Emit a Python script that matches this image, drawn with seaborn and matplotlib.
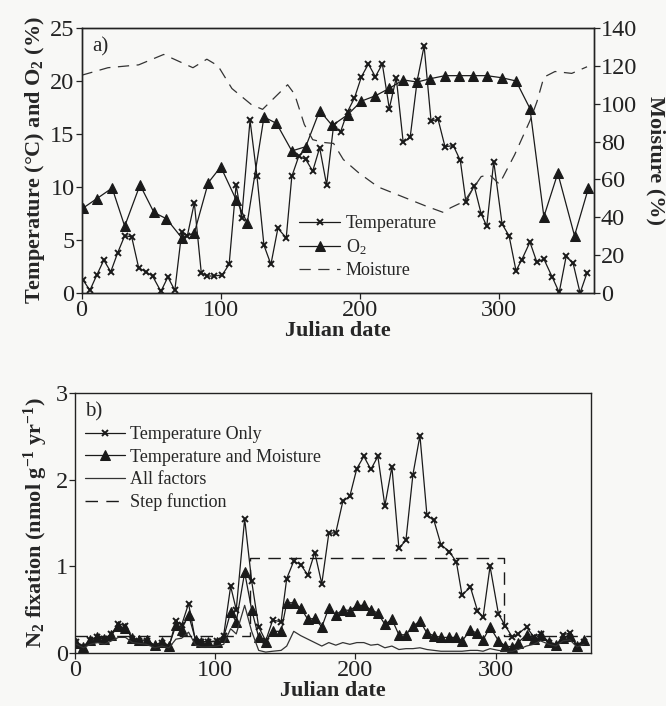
import matplotlib
matplotlib.use("Agg")
import matplotlib.pyplot as plt
import seaborn as sns
import pandas as pd

# ---------------- data ----------------
temp_days = [1, 6, 11, 16, 21, 26, 31, 36, 41, 46, 51, 57, 62, 67, 72, 76, 81, 86, 90, 95,
             101, 106, 111, 115, 121,
             126, 131, 136, 141, 147, 151, 156, 161, 166, 171, 176, 181, 186, 191, 196,
             201, 206, 211, 216, 221, 226, 231, 236, 241, 246,
             251, 256, 261, 267, 272, 276, 282, 287, 291, 296, 302, 307, 312, 316, 322,
             327, 332, 338, 343, 348, 353, 358, 363]
temperature = [1.25, 0.25, 1.7, 3.1, 2.0, 3.8, 5.4, 5.3, 2.4, 2.0,
               1.6, 0.15, 1.5, 0.25, 5.8, 5.4, 8.5, 1.9, 1.6, 1.6,
               1.7, 2.7, 10.2, 7.1, 16.3,
               11.0, 4.5, 2.7, 6.1, 5.2, 11.0, 12.9, 12.6, 11.5, 13.7,
               10.2, 15.8, 15.2, 17.1, 18.4, 20.4, 21.6, 20.4, 21.6, 17.4,
               20.3, 14.2, 14.7, 20.0, 23.3,
               16.2, 16.4, 13.8, 13.9, 12.5, 8.6, 10.1, 7.45, 6.3, 12.4,
               6.5, 5.4, 2.1, 3.1, 4.8, 2.9, 3.2, 1.5, 0.05, 3.45,
               2.8, 0.0, 1.9]

o2_days = [1, 11, 22, 31, 42, 52, 61, 72, 81, 91, 100, 111, 119, 131, 140, 151, 161, 171,
           180, 191, 201, 211, 221, 231, 241, 250, 261, 271, 281, 291, 302, 312, 322, 332,
           342, 354, 364]
o2 = [8.0, 8.9, 9.9, 6.3, 10.2, 7.6, 7.0, 5.2, 5.66, 10.4, 11.9, 8.8, 6.6, 16.6, 16.0,
      13.4, 13.8, 17.2, 15.8, 16.8, 18.1, 18.6, 19.3, 20.1, 19.9, 20.2, 20.5, 20.5, 20.5,
      20.5, 20.3, 20.0, 17.4, 7.2, 11.3, 5.4, 9.9]

moist_days = [0, 19, 41, 59, 80, 90, 98, 108, 122, 130, 148, 153, 160, 166, 174, 181, 188,
              199, 213, 230, 247, 260, 265, 275, 287, 293, 300, 311, 322, 327, 332, 340,
              352, 363]
moisture = [115, 119, 120.5, 126, 119, 123.5, 120, 108, 99.5, 97, 110, 105, 89, 81, 79.5,
            79, 70.5, 63.5, 56, 51, 46, 42.5, 45, 48.5, 61.5, 62.5, 57.5, 73, 91, 101, 114,
            117, 116, 119.5]

n2_temp_only = [0.13, 0.07, 0.15, 0.19, 0.16, 0.22, 0.34, 0.31, 0.16, 0.14,
                0.14, 0.07, 0.11, 0.07, 0.37, 0.32, 0.57, 0.13, 0.13, 0.13,
                0.14, 0.20, 0.77, 0.50, 1.55,
                0.83, 0.30, 0.14, 0.38, 0.36, 0.86, 1.06, 1.02, 0.90, 1.16,
                0.80, 1.38, 1.39, 1.75, 1.81, 2.13, 2.27, 2.12, 2.27, 1.70,
                2.15, 1.21, 1.30, 2.06, 2.51,
                1.59, 1.53, 1.25, 1.17, 1.05, 0.67, 0.76, 0.49, 0.41, 1.00,
                0.45, 0.31, 0.18, 0.22, 0.30, 0.19, 0.22, 0.11, 0.08, 0.21,
                0.23, 0.08, 0.13]
n2_temp_moist = [0.12, 0.07, 0.15, 0.18, 0.16, 0.21, 0.31, 0.29, 0.17, 0.15,
                 0.15, 0.09, 0.13, 0.08, 0.32, 0.27, 0.44, 0.15, 0.13, 0.13,
                 0.13, 0.18, 0.47, 0.36, 0.93,
                 0.50, 0.18, 0.13, 0.25, 0.25, 0.58, 0.58, 0.52, 0.39, 0.40,
                 0.30, 0.52, 0.44, 0.50, 0.49, 0.55, 0.55, 0.50, 0.46, 0.33,
                 0.39, 0.21, 0.21, 0.31, 0.37,
                 0.23, 0.20, 0.18, 0.18, 0.18, 0.14, 0.26, 0.23, 0.15, 0.30,
                 0.14, 0.08, 0.07, 0.12, 0.21, 0.16, 0.21, 0.13, 0.09, 0.17,
                 0.20, 0.08, 0.15]
n2_all = [0.10, 0.06, 0.10, 0.12, 0.10, 0.14, 0.18, 0.18, 0.12, 0.11,
          0.10, 0.06, 0.08, 0.06, 0.16, 0.17, 0.24, 0.09, 0.07, 0.07,
          0.08, 0.10, 0.28, 0.22, 0.55,
          0.25, 0.03, 0.01, 0.02, 0.03, 0.08, 0.25, 0.20, 0.16, 0.12,
          0.08, 0.12, 0.09, 0.12, 0.10, 0.12, 0.12, 0.09, 0.10, 0.06,
          0.08, 0.04, 0.05, 0.05, 0.06,
          0.04, 0.03, 0.02, 0.02, 0.02, 0.02, 0.03, 0.03, 0.02, 0.05,
          0.03, 0.02, 0.02, 0.04, 0.08, 0.10, 0.14, 0.10, 0.08, 0.14,
          0.15, 0.07, 0.10]

step_days = [0, 125, 306, 368]
step_values = [0.2, 1.1, 0.2, 0.2]

top_yticks = [0, 5, 10, 15, 20, 25]
moist_yticks = [0, 20, 40, 60, 80, 100, 120, 140]
bottom_yticks = [0, 1, 2, 3]
xticks = [0, 100, 200, 300]

# ---------------- style ----------------
sns.set_style("ticks")
plt.rcParams["font.family"] = ["Liberation Serif", "DejaVu Serif"]
plt.rcParams["mathtext.fontset"] = "custom"
plt.rcParams["mathtext.rm"] = "Liberation Serif"
plt.rcParams["mathtext.it"] = "Liberation Serif:italic"
plt.rcParams["mathtext.bf"] = "Liberation Serif:bold"
plt.rcParams["axes.edgecolor"] = "#222222"
plt.rcParams["xtick.color"] = "#222222"
plt.rcParams["ytick.color"] = "#222222"

INK = "#1a1a1a"
BG = "#f8f8f6"
TICK_FS = 17.5
LAB_FS = 16
LEG_FS = 13
DASH = (0, (9, 6))

fig = plt.figure(figsize=(6.66, 7.06), dpi=100, facecolor=BG)
ax1 = fig.add_axes([0.1224, 0.585, 0.7695, 0.3754])
ax2 = fig.add_axes([0.1126, 0.0751, 0.7748, 0.368])
for a in (ax1, ax2):
    a.set_facecolor(BG)

df_t = pd.DataFrame({"day": temp_days, "temp": temperature, "to": n2_temp_only,
                     "tm": n2_temp_moist, "all": n2_all})
df_o = pd.DataFrame({"day": o2_days, "o2": o2})
df_m = pd.DataFrame({"day": moist_days, "m": moisture})
df_s = pd.DataFrame({"day": step_days, "v": step_values})

xkw = dict(marker="x", markersize=4.5, markeredgewidth=1.4, markeredgecolor=INK,
           markerfacecolor=INK)
tkw = dict(marker="^", markersize=7, markeredgecolor=INK, markerfacecolor=INK)

# ---------------- panel a ----------------
sns.lineplot(data=df_t, x="day", y="temp", ax=ax1, color=INK, lw=0.9,
             label="Temperature", sort=False, estimator=None, **xkw)
sns.lineplot(data=df_o, x="day", y="o2", ax=ax1, color=INK, lw=0.9,
             label="O$_2$", sort=False, estimator=None, **tkw)
ax1b = ax1.twinx()
sns.lineplot(data=df_m, x="day", y="m", ax=ax1b, color="#333333", lw=0.9,
             linestyle=DASH, label="Moisture", sort=False, estimator=None)

ax1.set_xlim(0, 368)
ax1.set_ylim(0, 25)
ax1b.set_ylim(0, 140)
ax1.set_xticks(xticks)
ax1.set_yticks(top_yticks)
ax1b.set_yticks(moist_yticks)
ax1.set_xlabel("Julian date", fontsize=LAB_FS, fontweight="bold", labelpad=0)
ax1.set_ylabel(r"Temperature (°C) and O$_\mathbf{2}$ (%)", fontsize=LAB_FS,
               fontweight="bold", labelpad=2)
ax1b.set_ylabel("Moisture (%)", fontsize=LAB_FS, fontweight="bold", rotation=270,
                labelpad=20)
ax1.text(0.02, 0.965, "a)", transform=ax1.transAxes, fontsize=15, va="top", ha="left")

h1, l1 = ax1.get_legend_handles_labels()
h2, l2 = ax1b.get_legend_handles_labels()
if ax1b.get_legend() is not None:
    ax1b.get_legend().remove()
ax1.legend(h1 + h2, l1 + l2, loc="upper left", bbox_to_anchor=(0.41, 0.32),
           frameon=False, fontsize=LEG_FS, handlelength=2.3, handletextpad=0.3,
           labelspacing=0.28, borderaxespad=0)

# ---------------- panel b ----------------
sns.lineplot(data=df_t, x="day", y="to", ax=ax2, color=INK, lw=0.9,
             label="Temperature Only", sort=False, estimator=None, **xkw)
sns.lineplot(data=df_t, x="day", y="tm", ax=ax2, color=INK, lw=0.9,
             label="Temperature and Moisture", sort=False, estimator=None,
             **dict(tkw, markersize=6.5))
sns.lineplot(data=df_t, x="day", y="all", ax=ax2, color="#333333", lw=0.9,
             label="All factors", sort=False, estimator=None)
sns.lineplot(data=df_s, x="day", y="v", ax=ax2, color=INK, lw=1.0,
             linestyle=DASH, drawstyle="steps-post", label="Step function",
             sort=False, estimator=None)

ax2.set_xlim(0, 368)
ax2.set_ylim(0, 3)
ax2.set_xticks(xticks)
ax2.set_yticks(bottom_yticks)
ax2.set_xlabel("Julian date", fontsize=LAB_FS, fontweight="bold", labelpad=0)
ax2.set_ylabel(r"N$_\mathbf{2}$ fixation (nmol g$^\mathbf{-1}$ yr$^\mathbf{-1}$)",
               fontsize=LAB_FS, fontweight="bold", labelpad=4)
ax2.text(0.02, 0.965, "b)", transform=ax2.transAxes, fontsize=15, va="top", ha="left")
ax2.legend(loc="upper left", bbox_to_anchor=(0.005, 0.9), frameon=False,
           fontsize=LEG_FS, handlelength=2.2, handletextpad=0.3, labelspacing=0.3,
           borderaxespad=0)

for a in (ax1, ax1b, ax2):
    a.tick_params(direction="out", length=4, width=0.9, labelsize=TICK_FS, pad=1)
    for s in a.spines.values():
        s.set_visible(True)
        s.set_linewidth(1.0)

fig.savefig("out.png", dpi=100, facecolor=BG)
